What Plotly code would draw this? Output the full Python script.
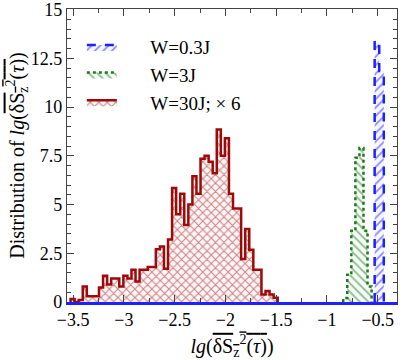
import numpy as np
import plotly.graph_objects as go

# histogram bins (x = lg of the averaged fluctuation), heights
red_start, red_width = -3.525, 0.04
red_counts = [0.15, 0.0, 0.1, 0.8, 0.3, 0.3, 0.3, 0.75, 1.35, 0.9,
              1.2, 1.2, 0.8, 1.35, 1.2, 1.65, 1.05, 1.65, 1.65, 1.8,
              1.8, 2.7, 2.85, 1.7, 3.2, 5.85, 4.5, 5.55, 3.95, 5.0,
              6.45, 5.55, 7.35, 7.5, 7.2, 6.6, 8.85, 7.5, 8.4, 5.55,
              4.8, 4.8, 2.2, 3.75, 2.68, 1.66, 1.66, 0.39, 0.56, 0.39, 0.22]

green_start, green_width = -0.84, 0.04
green_counts = [0.2, 1.4, 3.65, 7.4, 7.9, 3.65, 0.8]

blue_start, blue_width = -0.53, 0.045
blue_counts = [13.4, 11.85]

labels = ["W=0.3J", "W=3J", "W=30J; × 6"]
x_ticks = [-3.5, -3, -2.5, -2, -1.5, -1, -0.5]
y_ticks = [0, 2.5, 5, 7.5, 10, 12.5, 15]

SERIF = "Liberation Serif"
FRAME = "#444"


def step_xy(start, width, counts):
    edges = start + width * np.arange(len(counts) + 1)
    x = [edges[0]] + list(edges)
    y = [0] + list(counts) + [0]
    return x, y


fig = go.Figure()

styles = [
    (blue_start, blue_width, blue_counts, "#1f1fff", "rgba(31,31,255,0.04)", "dash", "/"),
    (green_start, green_width, green_counts, "#1e7a1e", "rgba(30,122,30,0.04)", "dot", "\\"),
    (red_start, red_width, red_counts, "#9e0a0a", "rgba(158,10,10,0.04)", "solid", "x"),
]
for (start, width, counts, color, tint, dash, shape), name in zip(styles, labels):
    x, y = step_xy(start, width, counts)
    fig.add_trace(go.Scatter(
        x=x, y=y, name="\u2002\u2002\u2002" + name,
        mode="lines",
        line=dict(color=color, width=2.5, dash=dash, shape="hv"),
        fill="tozeroy",
        fillcolor=tint,
        fillpattern=dict(shape=shape, fgcolor=color, size=6, solidity=0.3),
    ))

# empty trace that carries the mirrored top frame of the x axis
fig.add_trace(go.Scatter(x=[None], y=[None], xaxis="x2", showlegend=False))

lg_expr = ('<i>lg</i>(<span style="text-decoration:overline">δS<sub>z</sub>'
           '<sup>2</sup>(<i>τ</i>)</span>)')

tickfont = dict(family=SERIF, size=18, color="black")
minor_x = dict(dtick=0.25, ticks="inside", ticklen=4, tickcolor=FRAME)

fig.update_layout(
    width=403, height=360,
    margin=dict(l=67, r=6, t=9, b=58),
    paper_bgcolor="white", plot_bgcolor="white",
    font=dict(family=SERIF, color="black"),
    showlegend=True,
    legend=dict(
        x=0.045, y=0.935, xanchor="left", yanchor="top",
        font=dict(family=SERIF, size=19, color="black"),
        bgcolor="rgba(0,0,0,0)", tracegroupgap=0,
    ),
    xaxis=dict(
        range=[-3.56, -0.31], tickvals=x_ticks,
        showline=True, linecolor="#1f1fff", linewidth=2.5, mirror=False,
        ticks="inside", ticklen=7, tickcolor=FRAME, minor=minor_x,
        showgrid=False, zeroline=False, tickfont=tickfont,
        title=dict(text=lg_expr, font=dict(family=SERIF, size=20), standoff=14),
        automargin=False,
    ),
    xaxis2=dict(
        overlaying="x", side="top", matches="x", tickvals=x_ticks,
        showticklabels=False,
        showline=True, linecolor=FRAME, linewidth=1.2,
        ticks="inside", ticklen=7, tickcolor=FRAME, minor=minor_x,
        showgrid=False, zeroline=False,
    ),
    yaxis=dict(
        range=[0, 15.03], tickvals=y_ticks,
        showline=True, linecolor=FRAME, linewidth=1.2, mirror="ticks",
        ticks="inside", ticklen=7, tickcolor=FRAME,
        minor=dict(dtick=0.5, ticks="inside", ticklen=4, tickcolor=FRAME),
        showgrid=False, zeroline=False, tickfont=tickfont,
        ticklabeloverflow="allow",
        title=dict(text="Distribution of " + lg_expr, font=dict(family=SERIF, size=20),
                   standoff=0),
        automargin=False,
    ),
)

# drop the default page margin so the 403x360 figure fills the window exactly
fig.write_html("out.html", config={"displayModeBar": False},
               post_script="document.body.style.margin = '0';")
